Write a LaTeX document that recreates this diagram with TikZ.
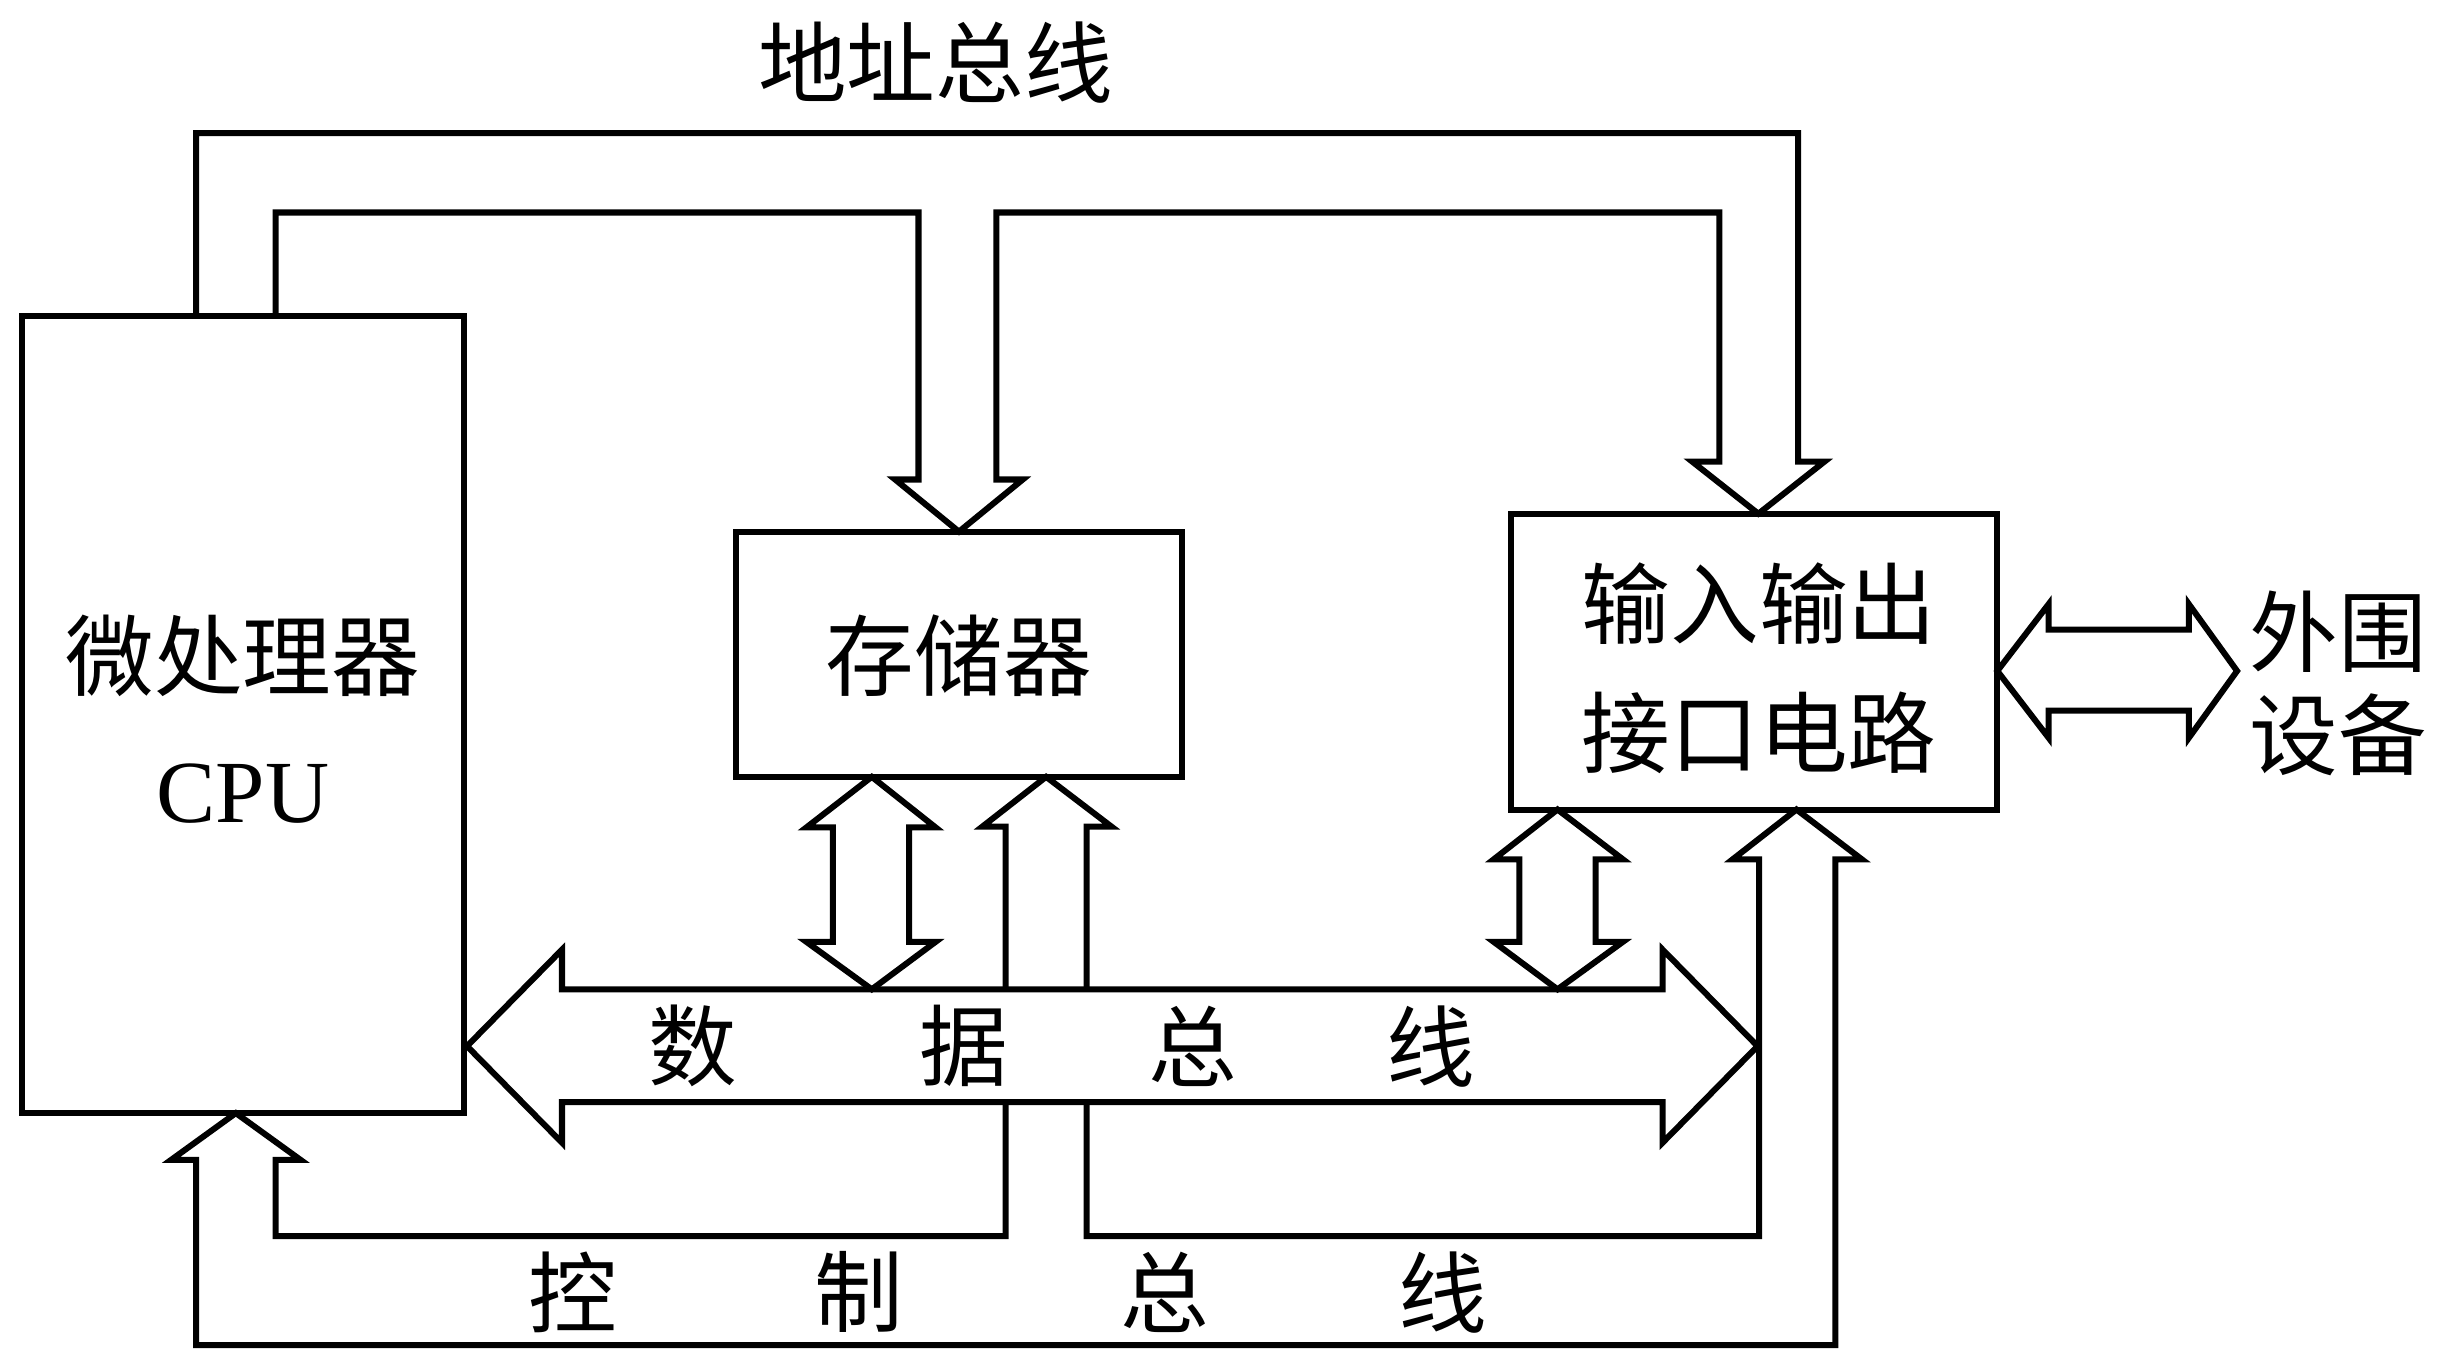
\documentclass[tikz,border=0pt]{standalone}
\usepackage{fontspec}
\setmainfont{Liberation Serif}
\newfontfamily\cjk{Noto Sans CJK SC}
\newcommand{\cjktext}{\cjk\fontsize{16.2pt}{19pt}\selectfont}

\begin{document}
\begin{tikzpicture}[x=0.01cm,y=-0.01cm,
                    box/.style={draw,line width=1.1pt,inner sep=0pt},
                    bus/.style={line width=1.1pt},
                    lbl/.style={font=\cjktext,inner sep=0pt}]
                    \useasboundingbox (0,0) rectangle (1568,872);

                    \node[box,minimum width=2.84cm,minimum height=5.12cm] (cpu) at (156,459) {};
                    \node[box,minimum width=2.86cm,minimum height=1.575cm] (mem) at (616,420.5) {};
                    \node[box,minimum width=3.12cm,minimum height=1.90cm] (io) at (1127,425) {};

                    \node[lbl] (cpuname) at (156,421) {微处理器};
                    \node[lbl,font=\fontsize{16.2pt}{19pt}\selectfont] (cpuabbr) at (156,510) {CPU};
                    \node[lbl] (memname) at (616,421) {存储器};
                    \node[lbl] (ioname) at (1130,388) {输入输出};
                    \node[lbl] (iocirc) at (1130,471) {接口电路};
                    \node[lbl] (periph) at (1502,406) {外围};
                    \node[lbl] (device) at (1502,472) {设备};

                    % address bus
                    \node[lbl] (abus) at (601,40) {地址总线};
                    \draw[bus] (126,203) -- (126,85.5) -- (1155,85.5) -- (1155,296.5) -- (1172,296.5) -- (1129.5,330)
                        -- (1087,296.5) -- (1104.5,296.5) -- (1104.5,136.5) -- (640,136.5) -- (640,308) -- (657,308)
                        -- (616,341.5) -- (575,308) -- (590,308) -- (590,136.5) -- (177,136.5) -- (177,203);

                    % data bus
                    \draw[bus] (300,672) -- (361,610) -- (361,635.5) -- (1068,635.5) -- (1068,610) -- (1129,672)
                        -- (1068,734) -- (1068,708) -- (361,708) -- (361,734) -- cycle;
                    \draw[bus] (560,499) -- (601,531.5) -- (584,531.5) -- (584,605) -- (601,605) -- (560,635.5)
                        -- (518,605) -- (535,605) -- (535,531.5) -- (518,531.5) -- cycle;
                    \draw[bus] (1000.5,520) -- (1042.5,552) -- (1025,552) -- (1025,605) -- (1042.5,605) -- (1000.5,635.5)
                        -- (959.5,605) -- (976,605) -- (976,552) -- (959.5,552) -- cycle;
                    \draw[bus] (1283,431) -- (1316,388) -- (1316,404.5) -- (1406,404.5) -- (1406,388) -- (1437,431)
                        -- (1406,474) -- (1406,456.5) -- (1316,456.5) -- (1316,474) -- cycle;
                    \node[lbl] (dbus1) at (445,672) {数};
                    \node[lbl] (dbus2) at (619,672) {据};
                    \node[lbl] (dbus3) at (766,672) {总};
                    \node[lbl] (dbus4) at (919,672) {线};

                    % control bus
                    \draw[bus] (698,635.5) -- (698,531) -- (714,531) -- (672,499) -- (631,531) -- (646,531) -- (646,635.5);
                    \draw[bus] (698,708) -- (698,794) -- (1130,794) -- (1130,552) -- (1113,552) -- (1154,520)
                        -- (1196,552) -- (1179,552) -- (1179,864) -- (126,864) -- (126,745) -- (110,745)
                        -- (151.5,715) -- (193,745) -- (177,745) -- (177,794) -- (646,794) -- (646,708);
                    \node[lbl] (cbus1) at (368,830) {控};
                    \node[lbl] (cbus2) at (552,830) {制};
                    \node[lbl] (cbus3) at (748,830) {总};
                    \node[lbl] (cbus4) at (927,830) {线};
                \end{tikzpicture}
\end{document}
